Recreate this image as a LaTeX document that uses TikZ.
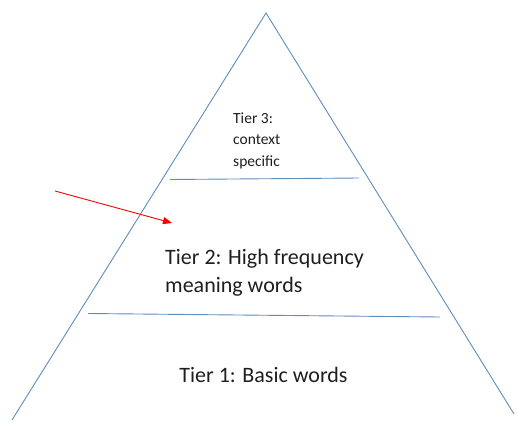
\documentclass[tikz,border=0pt]{standalone}
\usepackage{fontspec}
\setmainfont{Carlito}
\usetikzlibrary{arrows.meta}
\definecolor{edgeblue}{RGB}{95,140,190}
\definecolor{txt}{RGB}{30,30,30}
\begin{document}
\begin{tikzpicture}[x=1pt,y=-1pt,
  edge/.style={draw=edgeblue,line width=0.9pt},
  pointer/.style={draw=red,line width=0.9pt,-{Triangle[length=9pt,width=7pt]}},
  label/.style={text=txt,inner sep=0pt,align=left}]
\useasboundingbox (0,0) rectangle (515,421);
% triangle
\coordinate (apex) at (266,13);
\coordinate (bl) at (12,420);
\coordinate (br) at (514,414);
\draw[edge] (bl) -- (apex) -- (br);
% tier separators
\coordinate (u1) at (170,179.5);
\coordinate (u2) at (359,178);
\coordinate (l1) at (88,313.5);
\coordinate (l2) at (440,317);
\draw[edge] (u1) -- (u2);
\draw[edge] (l1) -- (l2);
% labels (base anchor = baseline of last line)
\node[label,anchor=base west,font=\fontsize{15.5}{21.5}\selectfont] (t3) at (233,166) {Tier 3:\\context\\specific};
\node[label,anchor=base west,font=\fontsize{22}{28}\selectfont] (t2) at (165,292) {Tier 2: High frequency\\meaning words};
\node[label,anchor=base,font=\fontsize{22}{28}\selectfont] (t1) at (263.5,382) {Tier 1: Basic words};
% arrow
\coordinate (as) at (55,191);
\coordinate (ae) at (172,223);
\draw[pointer] (as) -- (ae);
\end{tikzpicture}
\end{document}
